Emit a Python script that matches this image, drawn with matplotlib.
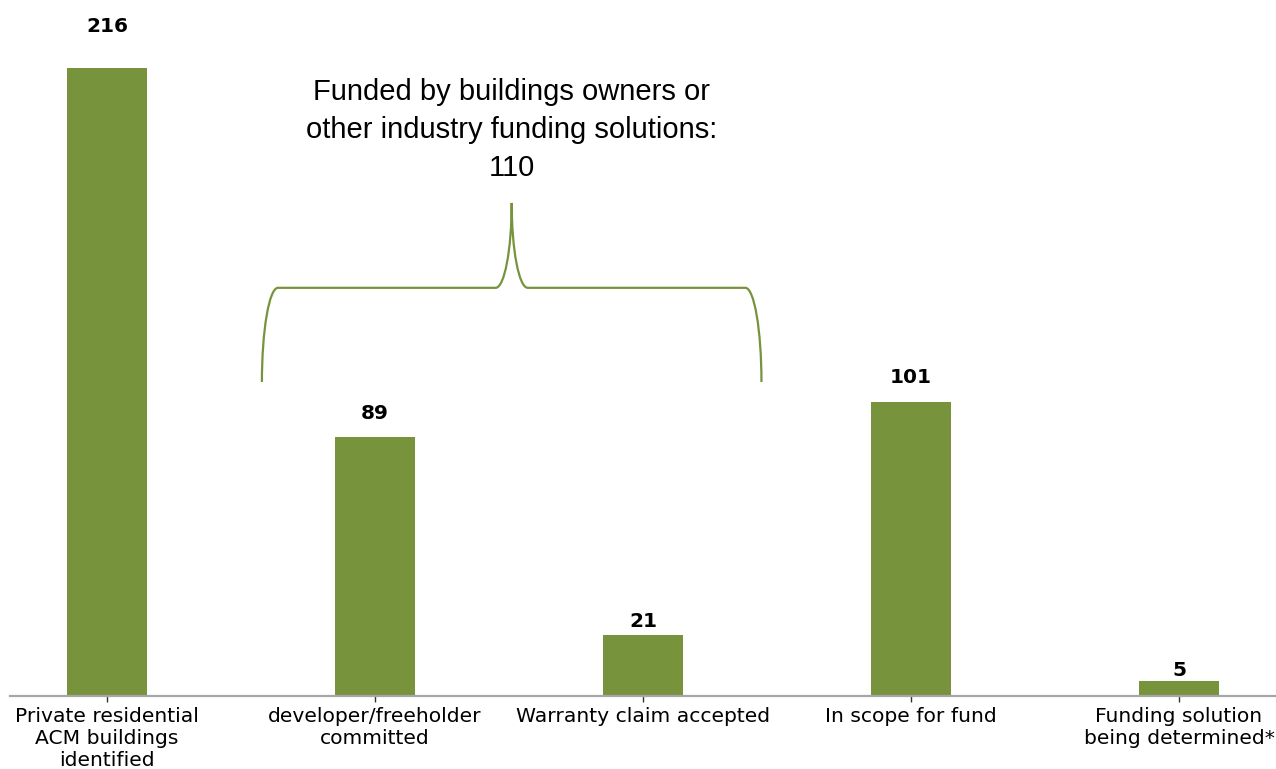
import matplotlib.pyplot as plt
from matplotlib.path import Path
from matplotlib.patches import PathPatch

categories = [
    "Private residential\nACM buildings\nidentified",
    "developer/freeholder\ncommitted",
    "Warranty claim accepted",
    "In scope for fund",
    "Funding solution\nbeing determined*",
]
values = [216, 89, 21, 101, 5]
brace_text = "Funded by buildings owners or\nother industry funding solutions:\n110"

green = "#77933C"

fig = plt.figure(figsize=(12.76, 7.69), dpi=100, facecolor="white")
ax = fig.add_axes([10 / 1276, 73 / 769, 1 - 10 / 1276, 696 / 769])

x = list(range(len(values)))
ax.bar(x, values, width=0.302, color=green)
ax.set_xlim(-0.362, len(values) - 1 + 0.362)
ax.set_ylim(0, 239.4)

for xi, v in zip(x, values):
    ax.text(xi, v * 1.05 + 3.6, str(v), ha="center", va="center",
            fontsize=14.5, fontweight="bold", family="DejaVu Sans")

ax.set_xticks(x)
ax.set_xticklabels(categories, fontsize=14.6, family="DejaVu Sans")
ax.tick_params(axis="x", length=4, width=1, color="#333333", pad=4)
ax.set_yticks([])
for side in ["top", "right", "left"]:
    ax.spines[side].set_visible(False)
ax.spines["bottom"].set_color("#A6A6A6")
ax.spines["bottom"].set_linewidth(1.6)

# curly brace over bars 1 and 2
x0, x1 = 0.578, 2.442
xm = (x0 + x1) / 2
yb, yh, yt = 108, 140.4, 169.6
dx = 0.06
k = 0.55
verts = [
    (x0, yb), (x0, yb + k * (yh - yb)), (x0 + dx * (1 - k), yh), (x0 + dx, yh),
    (xm - dx, yh),
    (xm - dx + k * dx, yh), (xm, yt - k * (yt - yh)), (xm, yt),
    (xm, yt - k * (yt - yh)), (xm + dx - k * dx, yh), (xm + dx, yh),
    (x1 - dx, yh),
    (x1 - dx * (1 - k), yh), (x1, yb + k * (yh - yb)), (x1, yb),
]
codes = [Path.MOVETO, Path.CURVE4, Path.CURVE4, Path.CURVE4,
         Path.LINETO,
         Path.CURVE4, Path.CURVE4, Path.CURVE4,
         Path.CURVE4, Path.CURVE4, Path.CURVE4,
         Path.LINETO,
         Path.CURVE4, Path.CURVE4, Path.CURVE4]
ax.add_patch(PathPatch(Path(verts, codes), facecolor="none",
                       edgecolor=green, linewidth=1.6))

ax.text(xm, 194.7, brace_text, ha="center", va="center", fontsize=21,
        family="Liberation Sans", linespacing=1.45)

fig.savefig("out.png", dpi=100, facecolor="white")
